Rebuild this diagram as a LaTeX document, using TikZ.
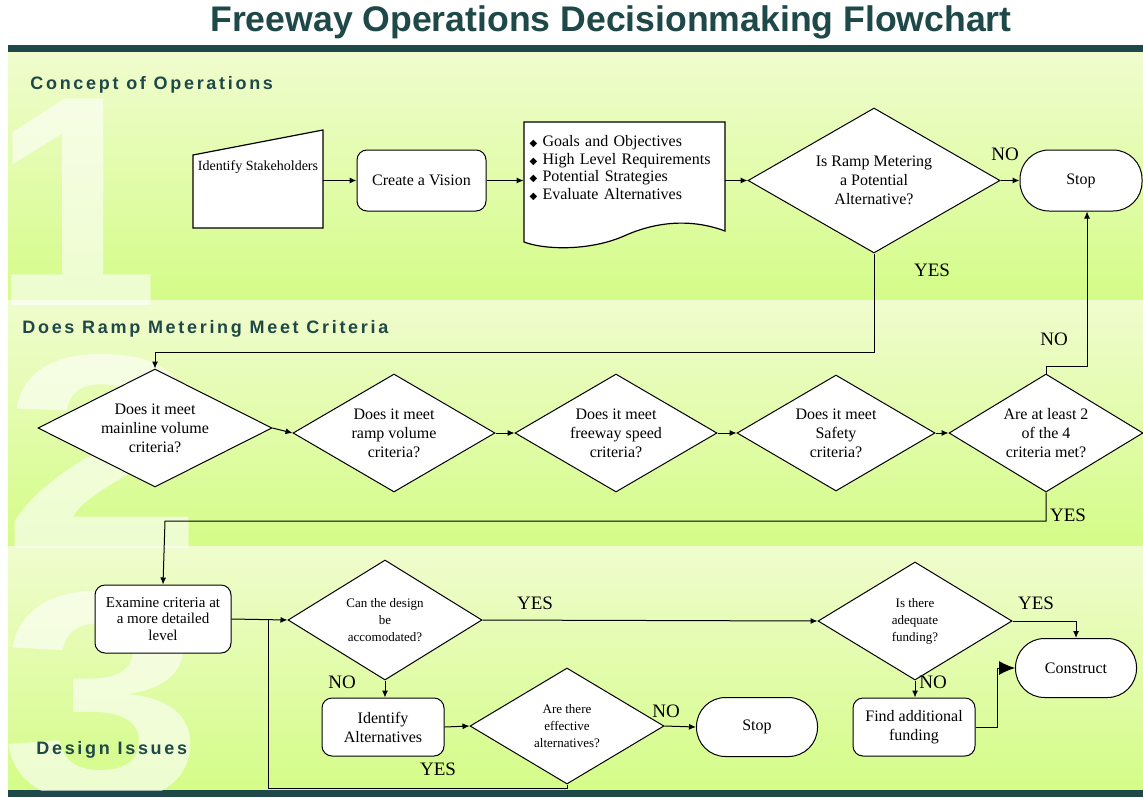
\documentclass[tikz,border=0pt]{standalone}
\usepackage{fontspec}
\setmainfont{Liberation Serif}
\newfontfamily\headfont{Liberation Sans}
\newfontfamily\sectfont[LetterSpace=15]{Liberation Sans}
\newfontfamily\symfont{DejaVu Sans}
\usetikzlibrary{shapes.geometric,arrows.meta,calc}

\definecolor{deepteal}{RGB}{31,72,72}
\definecolor{bandtop}{RGB}{240,252,206}
\definecolor{bandbot}{RGB}{212,252,136}

\newcommand{\bul}{{\symfont\fontsize{5}{5}\selectfont ◆}\ }

\tikzset{
  base/.style={draw=black, fill=white, line width=0.5pt, align=center, inner sep=1pt, font=\fontsize{8}{9.5}\selectfont},
  procbox/.style={base, rectangle, rounded corners=5pt},
  termbox/.style={base, rectangle, rounded corners=14.5pt},
  decision/.style={base, diamond, inner sep=0pt, shape aspect=1.7},
  smalltext/.style={font=\fontsize{6.5}{8.5}\selectfont},
  flow/.style={-{Latex[length=3.5pt,width=3pt]}, line width=0.5pt},
  yesno/.style={font=\fontsize{9.5}{10}\selectfont, inner sep=0pt},
  band/.style={top color=bandtop, bottom color=bandbot},
  bignum/.style={white, opacity=0.6, anchor=base west, inner sep=0pt, font=\headfont\bfseries\fontsize{150}{150}\selectfont, transform shape},
  sect/.style={deepteal, anchor=west, inner sep=0pt, font=\sectfont\bfseries\fontsize{9}{10}\selectfont}
}

\begin{document}
\begin{tikzpicture}[x=0.5pt,y=-0.5pt]
\useasboundingbox (0,0) rectangle (1143,797);
\fill[white] (0,0) rectangle (1143,797);

% bands
\fill[band] (8,52) rectangle (1143,300);
\fill[band] (8,300) rectangle (1143,546);
\fill[band] (8,546) rectangle (1143,790);
\fill[deepteal] (8,45) rectangle (1143,52);
\fill[deepteal] (8,790) rectangle (1143,797);

\begin{scope}
\clip (8,52) rectangle (1143,790);
\node[bignum, xscale=1.0] (num1) at (-8,305) {1};
\node[bignum, xscale=1.3, font=\headfont\bfseries\fontsize{139}{139}\selectfont] (num2) at (2,548) {2};
\node[bignum, xscale=1.22] (num3) at (0,800) {3};
\end{scope}

\node[deepteal, font=\headfont\bfseries\fontsize{17.8}{20}\selectfont] (title) at (611,22) {Freeway Operations Decisionmaking Flowchart};

\node[sect] (sec1) at (30,85) {Concept of Operations};
\node[sect] (sec2) at (22,329) {Does Ramp Metering Meet Criteria};
\node[sect] (sec3) at (36,750) {Design Issues};

% concept of operations
\draw[fill=white, line width=0.6pt] (193,155) -- (323,130) -- (323,228) -- (193,228) -- cycle;
\node[font=\fontsize{7}{8}\selectfont, minimum width=65pt, inner sep=0pt] (stake) at (258,167) {Identify Stakeholders};
\node[procbox, minimum width=64.5pt, minimum height=30.5pt] (vision) at (421.5,180.5) {Create a Vision};
\draw[fill=white, line width=0.6pt] (524,122) -- (725,122) -- (725,231) .. controls (690,218) and (655,222) .. (624,236) .. controls (590,251) and (545,250) .. (524,242) -- cycle;
\node[align=left, text width=95pt, inner sep=2.75pt, font=\fontsize{8}{8.75}\selectfont] (goals) at (624.5,168) {\bul Goals and Objectives\\ \bul High Level Requirements\\ \bul Potential Strategies\\ \bul Evaluate Alternatives};
\node[decision, minimum width=126pt, minimum height=72.5pt] (q0) at (874,180.5) {Is Ramp Metering\\a Potential\\Alternative?};
\node[termbox, minimum width=61pt, minimum height=30.5pt] (stop1) at (1081,180.5) {Stop};

% criteria
\node[decision, shape aspect=2, minimum width=117pt, minimum height=59pt] (mainline) at (155,428) {Does it meet\\mainline volume\\criteria?};
\node[decision, minimum width=101pt, minimum height=59pt] (ramp) at (394,433) {Does it meet\\ramp volume\\criteria?};
\node[decision, minimum width=101pt, minimum height=59pt] (speed) at (616,433) {Does it meet\\freeway speed\\criteria?};
\node[decision, minimum width=99pt, minimum height=58pt] (safety) at (836,433) {Does it meet\\Safety\\criteria?};
\node[decision, minimum width=97pt, minimum height=59pt] (twoof) at (1046,433) {Are at least 2\\of the 4\\criteria met?};

% design issues
\node[procbox, minimum width=68pt, minimum height=34pt, font=\fontsize{7.5}{8.3}\selectfont] (examine) at (163,619) {Examine criteria at\\a more detailed\\level};
\node[decision, smalltext, shape aspect=1.62, minimum width=97pt, minimum height=60pt] (design) at (385,620) {Can the design\\be\\accomodated?};
\node[procbox, minimum width=61pt, minimum height=29pt] (identify) at (383,727) {Identify\\Alternatives};
\node[decision, smalltext, shape aspect=1.62, minimum width=97pt, minimum height=58pt] (effective) at (567,726) {Are there\\effective\\alternatives?};
\node[termbox, minimum width=60.5pt, minimum height=29.5pt] (stop2) at (757,727) {Stop};
\node[decision, smalltext, shape aspect=1.62, minimum width=97pt, minimum height=59pt] (funding) at (915,621) {Is there\\adequate\\funding?};
\node[termbox, minimum width=60.5pt, minimum height=29.5pt] (construct) at (1076,668) {Construct};
\node[procbox, minimum width=61pt, minimum height=29pt] (findfund) at (914,727) {Find additional\\funding};

\coordinate (yesdown) at (155,352);
\coordinate (noup) at (1087,366);
\coordinate (yesback) at (165,521);
\coordinate (loopback) at (268,788);

% connectors
\draw[flow] (stake.east |- vision.west) -- (vision.west);
\draw[flow] (vision.east) -- (vision.east -| goals.west);
\draw[flow] (q0.west -| goals.east) -- (q0.west);
\draw[flow] (q0.east) -- (stop1.west);
\draw[flow] (q0.south) |- (yesdown) -- (mainline.north);
\draw[flow] (mainline.east) -- (ramp.west);
\draw[flow] (ramp.east) -- (speed.west);
\draw[flow] (speed.east) -- (safety.west);
\draw[flow] (safety.east) -- (twoof.west);
\draw[flow] (twoof.north) |- (noup) -- (noup |- stop1.south);
\draw[flow] (twoof.south) |- (yesback) -- (examine.north);
\draw[flow] (examine.east) -- (design.west);
\draw[line width=0.5pt] (effective.south) |- (loopback) -- (loopback |- design.west);
\draw[flow] (design.east) -- (funding.west);
\draw[flow] (design.south) -- (design.south |- identify.north);
\draw[flow] (identify.east) -- (effective.west);
\draw[flow] (effective.east) -- (stop2.west);
\draw[flow] (funding.east) -| (construct.north);
\draw[flow] (funding.south) -- (funding.south |- findfund.north);
\draw[-{Latex[length=8pt,width=7pt]}, line width=0.5pt] (findfund.east) -- ++(22,0) |- (construct.west);

% labels
\node[yesno] (no1) at (1005,154) {NO};
\node[yesno] (yes1) at (932,270) {YES};
\node[yesno] (no2) at (1054,339) {NO};
\node[yesno] (yes2) at (1068,515) {YES};
\node[yesno] (yes3) at (535,603) {YES};
\node[yesno] (no3) at (342,682) {NO};
\node[yesno] (yes4) at (438,769) {YES};
\node[yesno] (no4) at (666,711) {NO};
\node[yesno] (yes5) at (1036,603) {YES};
\node[yesno] (no5) at (933,682) {NO};
\end{tikzpicture}
\end{document}
